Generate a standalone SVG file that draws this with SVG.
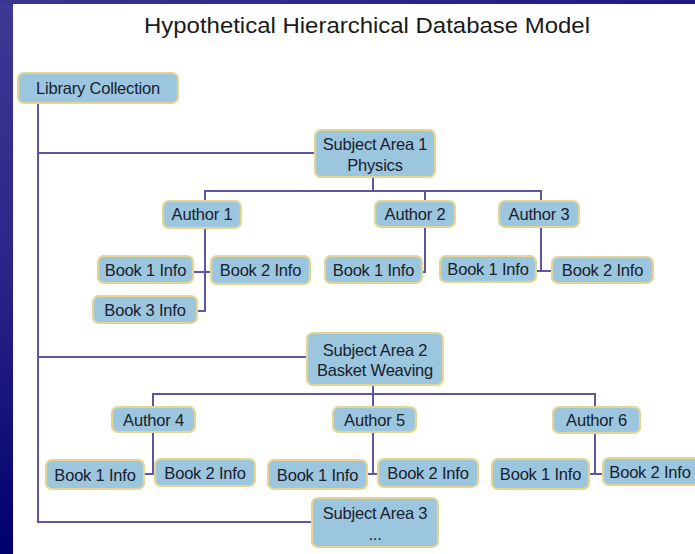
<svg xmlns="http://www.w3.org/2000/svg" width="695" height="554" viewBox="0 0 695 554">
<defs>
<linearGradient id="bg" x1="0" y1="0" x2="0" y2="1">
<stop offset="0" stop-color="#3c3a92"/>
<stop offset="0.5" stop-color="#2a2488"/>
<stop offset="1" stop-color="#00006c"/>
</linearGradient>
<linearGradient id="topbg" x1="0" y1="0" x2="1" y2="0">
<stop offset="0" stop-color="#3a3590"/>
<stop offset="1" stop-color="#1e1a86"/>
</linearGradient>
<style>
.box{fill:#9cc6de;stroke:#e4d592;stroke-width:2.2;}
.t{font-family:"Liberation Sans",Arial,sans-serif;font-size:16.5px;fill:#18202e;text-anchor:middle;letter-spacing:-0.2px;}
.title{font-family:"Liberation Sans",Arial,sans-serif;font-size:22px;fill:#1a1a1a;text-anchor:middle;}
.c line{stroke:#5f55a2;stroke-width:2;fill:none;}
</style>
</defs>
<rect x="0" y="0" width="695" height="554" fill="url(#bg)"/>
<rect x="0" y="0" width="695" height="5" fill="url(#topbg)"/>
<rect x="13" y="4" width="682" height="550" fill="#ffffff"/>
<text class="title" x="367" y="33" textLength="446" lengthAdjust="spacingAndGlyphs">Hypothetical Hierarchical Database Model</text>

<g id="connectors" class="c">
<line x1="38" y1="103" x2="38" y2="523"/>
<line x1="37" y1="153" x2="315" y2="153"/>
<line x1="37" y1="357" x2="307" y2="357"/>
<line x1="37" y1="522" x2="312" y2="522"/>
<line x1="373" y1="177" x2="373" y2="191"/>
<line x1="204" y1="191" x2="542" y2="191"/>
<line x1="205" y1="191" x2="205" y2="201"/>
<line x1="425" y1="191" x2="425" y2="201"/>
<line x1="541" y1="191" x2="541" y2="201"/>
<line x1="205" y1="228" x2="205" y2="312"/>
<line x1="193" y1="272" x2="211" y2="272"/>
<line x1="197" y1="311" x2="206" y2="311"/>
<line x1="425" y1="227" x2="425" y2="273"/>
<line x1="422" y1="272" x2="426" y2="272"/>
<line x1="541" y1="227" x2="541" y2="272"/>
<line x1="536" y1="271" x2="552" y2="271"/>
<line x1="373" y1="385" x2="373" y2="394"/>
<line x1="152" y1="394" x2="596" y2="394"/>
<line x1="153" y1="394" x2="153" y2="407"/>
<line x1="373" y1="394" x2="373" y2="407"/>
<line x1="595" y1="394" x2="595" y2="407"/>
<line x1="153" y1="432" x2="153" y2="475"/>
<line x1="144" y1="474" x2="155" y2="474"/>
<line x1="373" y1="432" x2="373" y2="475"/>
<line x1="367" y1="474" x2="378" y2="474"/>
<line x1="595" y1="433" x2="595" y2="475"/>
<line x1="589" y1="474" x2="603" y2="474"/>
</g>

<g id="library"><rect class="box" x="18" y="73" width="160" height="30" rx="6"/><text class="t" x="98" y="94">Library Collection</text></g>

<g id="sa1"><rect class="box" x="315" y="130" width="120" height="47" rx="6"/><text class="t" x="375" y="150">Subject Area 1</text><text class="t" x="375" y="170.5">Physics</text></g>
<g id="author1"><rect class="box" x="163" y="201" width="78" height="27" rx="6"/><text class="t" x="202" y="220">Author 1</text></g>
<g id="author2"><rect class="box" x="375" y="201" width="80" height="26" rx="6"/><text class="t" x="415" y="219.5">Author 2</text></g>
<g id="author3"><rect class="box" x="499" y="201" width="80" height="26" rx="6"/><text class="t" x="539" y="219.5">Author 3</text></g>
<g id="a1b1"><rect class="box" x="98" y="256" width="95" height="27" rx="6"/><text class="t" x="145.5" y="275.5">Book 1 Info</text></g>
<g id="a1b2"><rect class="box" x="211" y="256" width="99" height="28" rx="6"/><text class="t" x="260.5" y="276">Book 2 Info</text></g>
<g id="a1b3"><rect class="box" x="93" y="296" width="104" height="27" rx="6"/><text class="t" x="145" y="315.5">Book 3 Info</text></g>
<g id="a2b1"><rect class="box" x="325" y="256" width="97" height="27" rx="6"/><text class="t" x="373.5" y="275.5">Book 1 Info</text></g>
<g id="a3b1"><rect class="box" x="440" y="256" width="96" height="26" rx="6"/><text class="t" x="488" y="275">Book 1 Info</text></g>
<g id="a3b2"><rect class="box" x="552" y="257" width="101" height="26" rx="6"/><text class="t" x="602.5" y="276">Book 2 Info</text></g>

<g id="sa2"><rect class="box" x="307" y="333" width="136" height="52" rx="6"/><text class="t" x="375" y="356">Subject Area 2</text><text class="t" x="375" y="376">Basket Weaving</text></g>
<g id="author4"><rect class="box" x="112" y="407" width="83" height="25" rx="6"/><text class="t" x="153.5" y="425.5">Author 4</text></g>
<g id="author5"><rect class="box" x="333" y="407" width="83" height="25" rx="6"/><text class="t" x="374.5" y="425.5">Author 5</text></g>
<g id="author6"><rect class="box" x="553" y="407" width="87" height="26" rx="6"/><text class="t" x="596.5" y="426">Author 6</text></g>
<g id="a4b1"><rect class="box" x="46" y="460" width="98" height="29" rx="6"/><text class="t" x="95" y="480.5">Book 1 Info</text></g>
<g id="a4b2"><rect class="box" x="155" y="459" width="100" height="27" rx="6"/><text class="t" x="205" y="478.5">Book 2 Info</text></g>
<g id="a5b1"><rect class="box" x="268" y="460" width="99" height="29" rx="6"/><text class="t" x="317.5" y="480.5">Book 1 Info</text></g>
<g id="a5b2"><rect class="box" x="378" y="459" width="100" height="28" rx="6"/><text class="t" x="428" y="479">Book 2 Info</text></g>
<g id="a6b1"><rect class="box" x="492" y="459" width="97" height="30" rx="6"/><text class="t" x="540.5" y="480">Book 1 Info</text></g>
<g id="a6b2"><rect class="box" x="603" y="458" width="100" height="27" rx="6"/><text class="t" x="650" y="477.5">Book 2 Info</text></g>

<g id="sa3"><rect class="box" x="312" y="498" width="126" height="49" rx="6"/><text class="t" x="375" y="519">Subject Area 3</text><text class="t" x="375" y="540">...</text></g>
</svg>
